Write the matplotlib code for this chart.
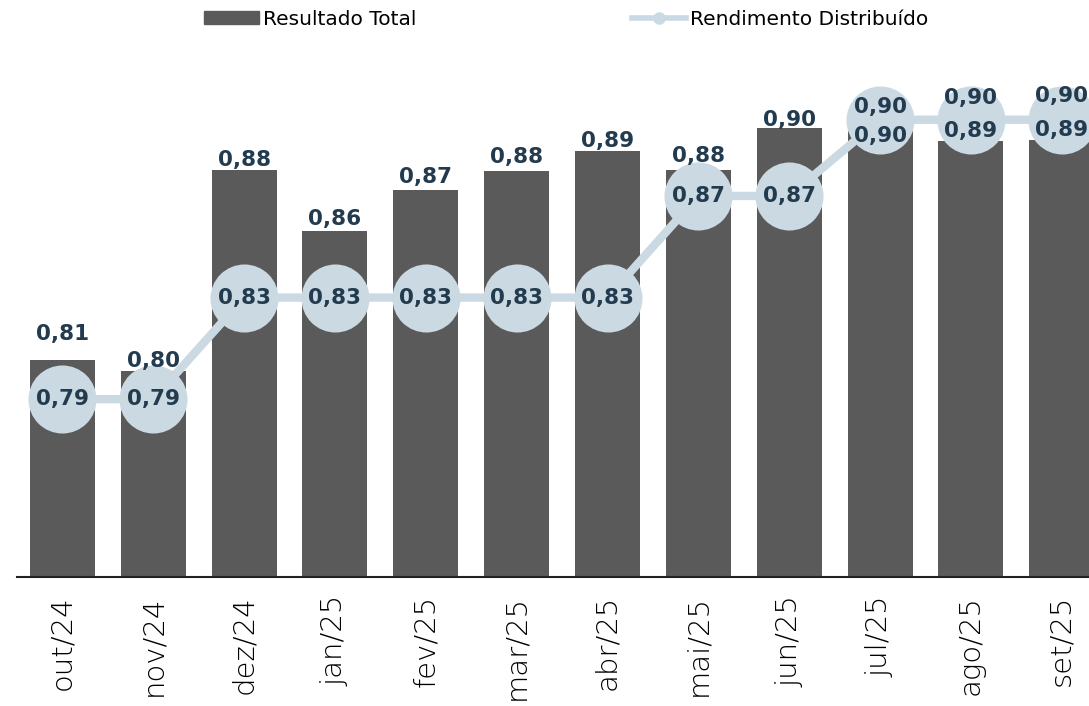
import matplotlib
matplotlib.use("Agg")
from matplotlib import pyplot as plt
from matplotlib.lines import Line2D
from matplotlib.patches import Patch
import numpy as np

# data
meses = ["out/24", "nov/24", "dez/24", "jan/25", "fev/25", "mar/25",
         "abr/25", "mai/25", "jun/25", "jul/25", "ago/25", "set/25"]
resultado_total = [0.8054, 0.8011, 0.8802, 0.8562, 0.8724, 0.8798,
                   0.8877, 0.8802, 0.8968, 0.8990, 0.8917, 0.8920]
rendimento = [0.79, 0.79, 0.83, 0.83, 0.83, 0.83,
              0.83, 0.87, 0.87, 0.90, 0.90, 0.90]

# label offsets in points (where the original moved labels to avoid overlap)
off_barra = [19, 7, 7, 9, 9, 10, 7, 10, 6, -10, 7, 7]
off_linha = [0, 0, 0, 0, 0, 0, 0, 0, 0, 9, 16, 17]

cor_barra = "#5a5a5a"
cor_linha = "#cad9e2"
cor_texto = "#233b4f"

fig = plt.figure(figsize=(10.89, 7.06), dpi=100)
ax = fig.add_axes([0.0156, 0.1827, 0.9844, 0.7607])

x = np.arange(len(meses))
ax.bar(x, resultado_total, width=0.716, color=cor_barra, zorder=2)
ax.plot(x, rendimento, color=cor_linha, lw=6, marker="o", ms=49,
        markeredgewidth=0, zorder=3)

fmt = lambda v: f"{v:.2f}".replace(".", ",")
for i in range(len(meses)):
    ax.annotate(fmt(resultado_total[i]), (x[i], resultado_total[i]),
                xytext=(0, off_barra[i]), textcoords="offset points",
                ha="center", va="center", fontsize=15.5, fontweight="bold",
                color=cor_texto, zorder=5)
    ax.annotate(fmt(rendimento[i]), (x[i], rendimento[i]),
                xytext=(0, off_linha[i]), textcoords="offset points",
                ha="center", va="center", fontsize=15.5, fontweight="bold",
                color=cor_texto, zorder=5)

ax.set_xlim(-0.5, 11.3)
ax.set_ylim(0.72, 0.9314)
ax.set_xticks(x)
ax.set_xticklabels(meses, rotation=90, fontsize=21, fontweight="light",
                   color="#000000")
ax.tick_params(axis="x", length=0, pad=13)
ax.set_yticks([])
for s in ["top", "right", "left"]:
    ax.spines[s].set_visible(False)
ax.spines["bottom"].set_color("#222222")
ax.spines["bottom"].set_linewidth(1.5)

handles = [Patch(color=cor_barra, label="Resultado Total"),
           Line2D([0], [0], color=cor_linha, lw=4, marker="o", ms=8,
                  label="Rendimento Distribuído")]
fig.legend(handles=handles, loc="upper center", bbox_to_anchor=(0.52, 1.012),
           ncol=2, frameon=False, fontsize=14.5, columnspacing=10.7,
           handlelength=2.7, handleheight=0.6, handletextpad=0.2)

fig.savefig("out.png", dpi=100)
